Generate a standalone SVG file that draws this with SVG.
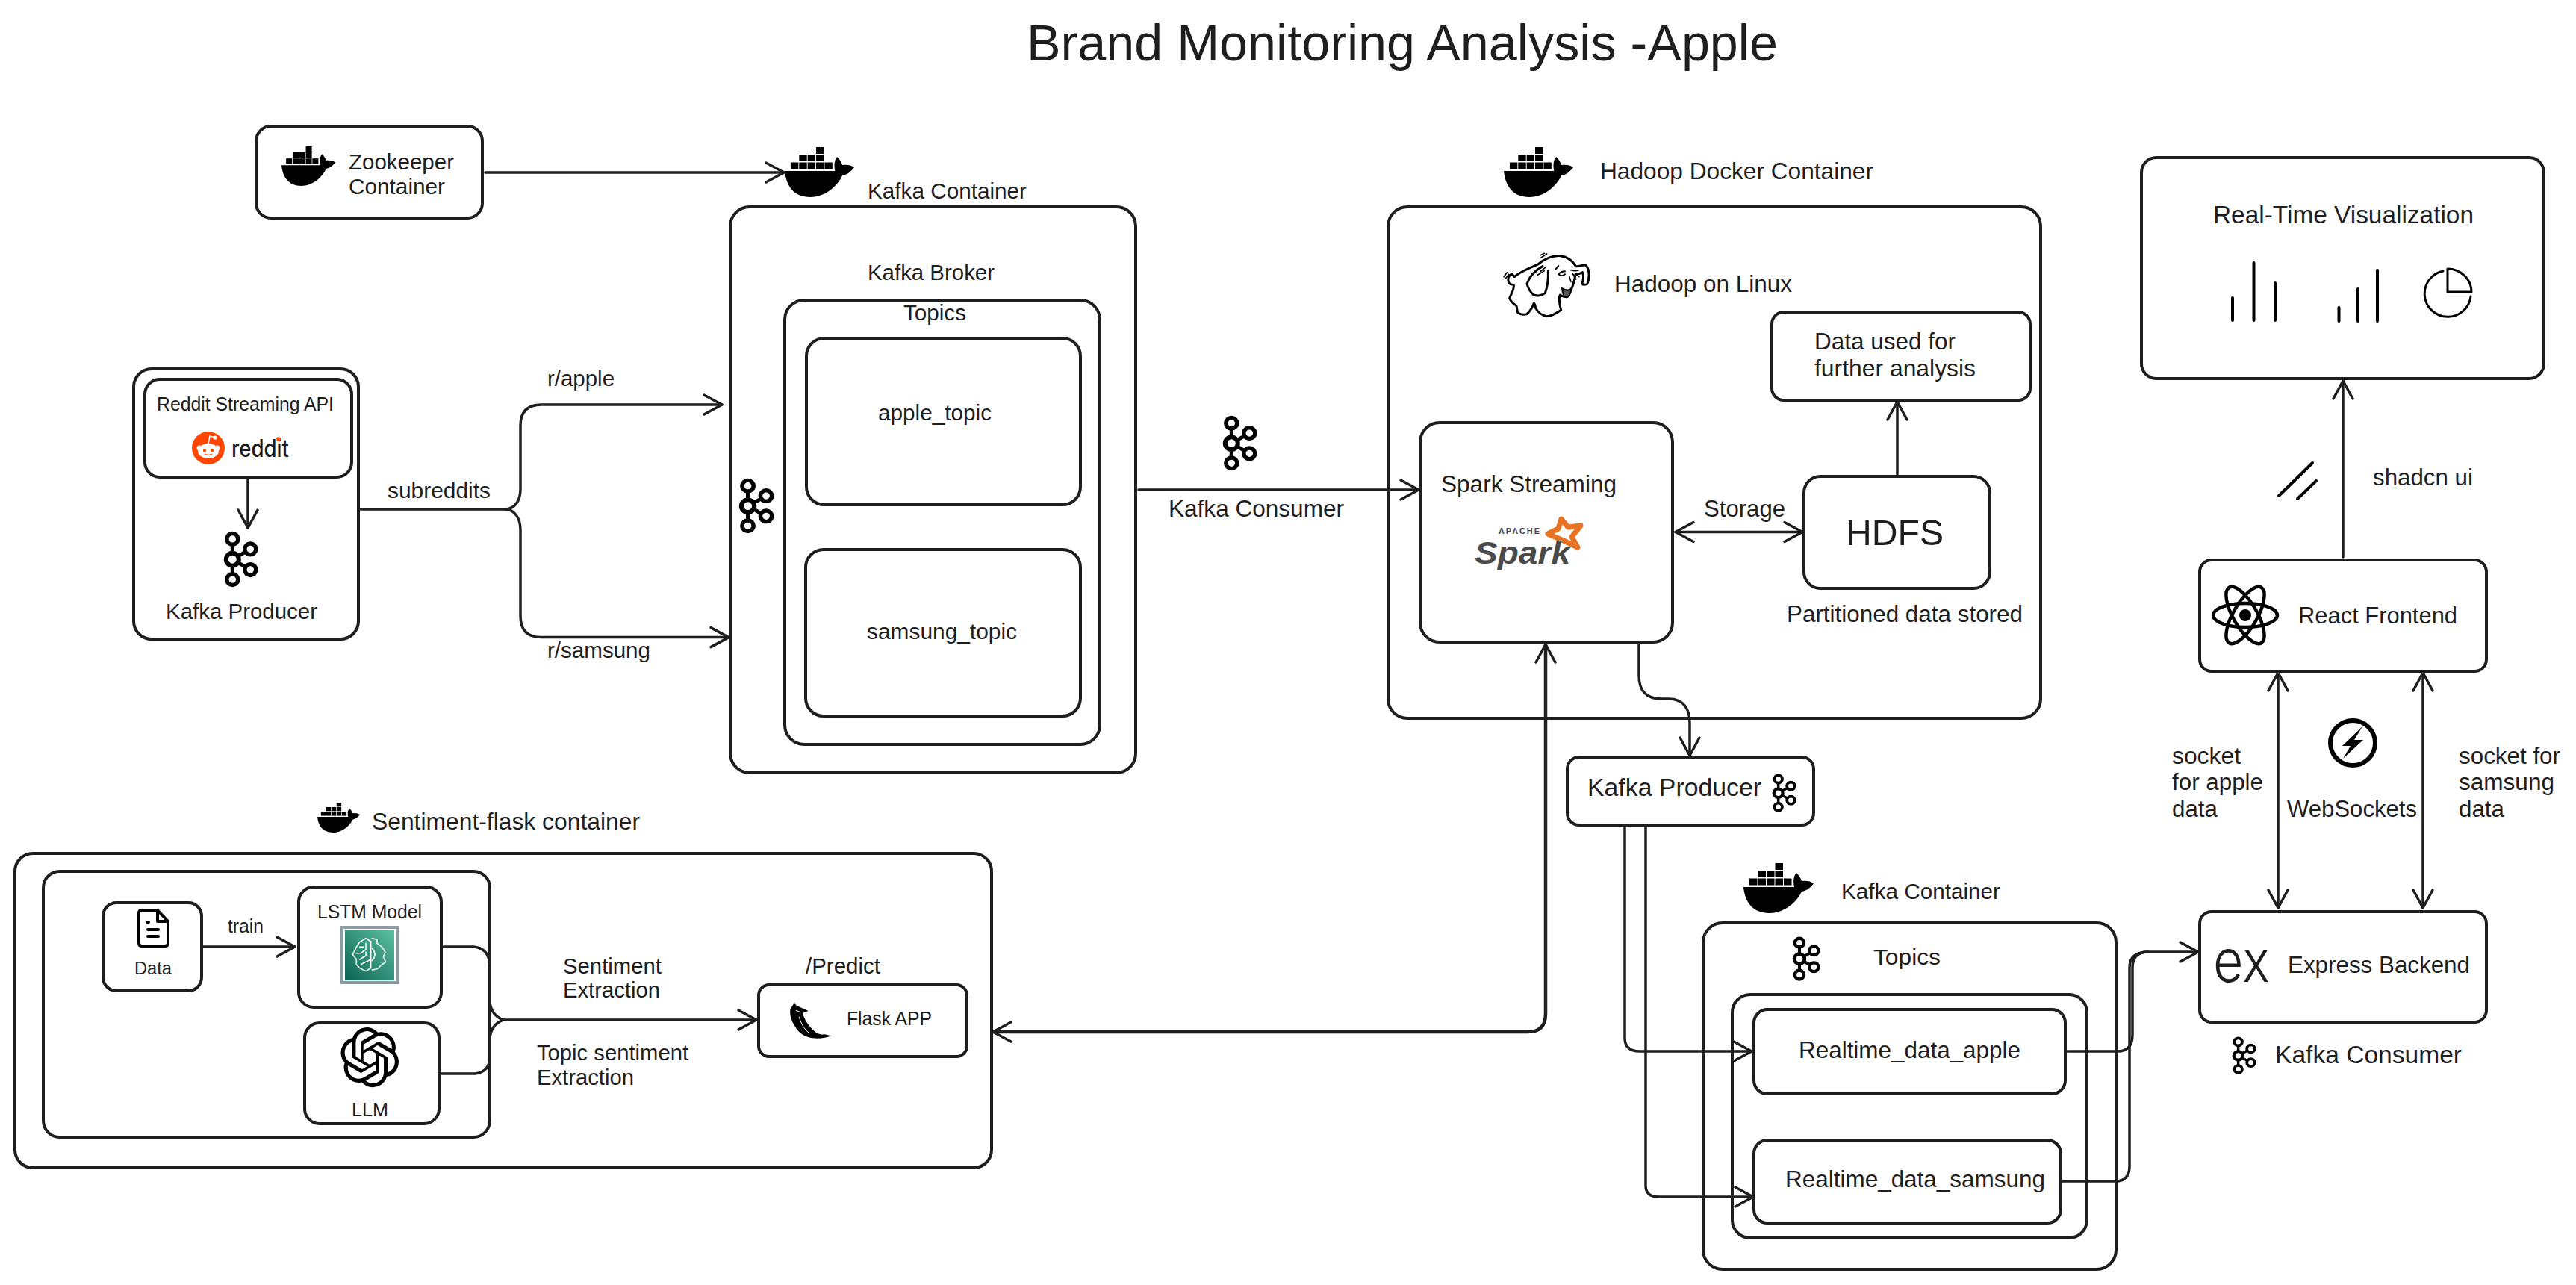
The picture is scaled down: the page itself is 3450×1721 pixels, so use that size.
<svg xmlns="http://www.w3.org/2000/svg" width="3450" height="1721" viewBox="0 0 3450 1721">
<style>
text{font-family:"Liberation Sans",Arial,sans-serif;fill:#1e1e1e}
.f24{font-size:24px}.f25{font-size:25px}.f30{font-size:30px}.f31{font-size:31px}.f32{font-size:32px}.f33{font-size:33px}.f34{font-size:34px}
.box{fill:none;stroke:#1e1e1e;stroke-width:4}
.conn{fill:none;stroke:#1e1e1e;stroke-width:3.5;stroke-linecap:round;stroke-linejoin:round}
.arr{marker-end:url(#head)}
.both{marker-end:url(#head);marker-start:url(#head)}
.ico{fill:none;stroke:#000;stroke-linecap:round;stroke-linejoin:round}
</style>
<defs>
<marker id="head" markerUnits="userSpaceOnUse" markerWidth="40" markerHeight="40" viewBox="-30 -20 40 40" refX="0" refY="0" orient="auto-start-reverse">
<path d="M-24 -13L0 0L-24 13" fill="none" stroke="#1e1e1e" stroke-width="3.5" stroke-linecap="round" stroke-linejoin="round"/>
</marker>
<symbol id="whale" viewBox="0 0 94 67" preserveAspectRatio="none">
<path d="M0 32H68C66 22 68 16 71 13C75 17 77 21 78 24C84 23 90 24 94 27C90 33 84 37 78 38C70 55 52 67 35 67C12 67 2 52 0 32Z" fill="#000"/>
<g fill="#000"><rect x="8" y="20.5" width="10.5" height="9"/><rect x="19.5" y="20.5" width="10.5" height="9"/><rect x="31" y="20.5" width="10.5" height="9"/><rect x="42.5" y="20.5" width="10.5" height="9"/><rect x="54" y="20.5" width="10.5" height="9"/><rect x="19.5" y="10" width="10.5" height="9"/><rect x="31" y="10" width="10.5" height="9"/><rect x="42.5" y="10" width="10.5" height="9"/><rect x="42.5" y="0" width="10.5" height="9"/></g>
</symbol>
<symbol id="kafka" viewBox="0 0 47 78" preserveAspectRatio="none">
<path d="M12.3 11V66M12.3 38.7L36.3 24.7M12.3 38.7L36.3 52.7" fill="none" stroke="#000" stroke-width="5"/>
<g fill="#fff" stroke="#000"><circle cx="12.3" cy="11" r="7.5" stroke-width="5.5"/><circle cx="12.3" cy="38.7" r="8.5" stroke-width="6"/><circle cx="12.3" cy="66" r="7.5" stroke-width="5.5"/><circle cx="36.3" cy="24.7" r="7.5" stroke-width="5.5"/><circle cx="36.3" cy="52.7" r="7.5" stroke-width="5.5"/></g>
</symbol>
<linearGradient id="aws" x1="0" y1="1" x2="1" y2="0"><stop offset="0" stop-color="#0a6350"/><stop offset="1" stop-color="#5cc0a2"/></linearGradient>
</defs>
<rect width="3450" height="1721" fill="#fff"/>

<text id="title" x="1375" y="81" font-size="68" textLength="1006" lengthAdjust="spacingAndGlyphs">Brand Monitoring Analysis -Apple</text>

<g id="connectors">
<path class="conn arr" d="M650 231H1050"/>
<path class="conn arr" d="M332 642V707"/>
<path class="conn arr" d="M483 682H676C690 682 697 670 697 655V570Q697 542 725 542H967"/>
<path class="conn arr" d="M676 682C690 682 697 695 697 710V825Q697 853.6 725 853.6H976"/>
<path class="conn arr" d="M1525 656H1900"/>
<path class="conn both" d="M2244 712.5H2414"/>
<path class="conn arr" d="M2541 635V538"/>
<path class="conn arr" d="M2195 863V905C2195 925 2205 936 2225 936H2235C2255 936 2263 950 2263 968V1012"/>
<path class="conn both" d="M1330 1382H2046Q2070 1382 2070 1358V863" style="stroke-width:4.5"/>
<path class="conn arr" d="M2176 1107V1390Q2176 1408 2196 1408H2346"/>
<path class="conn arr" d="M2204 1107V1588Q2204 1603 2222 1603H2348"/>
<path class="conn" d="M2769 1408H2836Q2856 1408 2856 1386V1296Q2856 1275 2877 1275"/>
<path class="conn arr" d="M2761 1582H2833Q2852 1582 2852 1562V1296Q2852 1275 2877 1275H2944"/>
<path class="conn arr" d="M272 1268H395"/>
<path class="conn" d="M594 1268H634Q656 1270 656 1295V1342Q658 1360 674 1366"/>
<path class="conn" d="M591 1438H636Q656 1436 656 1415V1390Q658 1372 674 1366"/>
<path class="conn arr" d="M674 1366H1013"/>
<path class="conn arr" d="M3138 746V510"/>
<path class="conn both" d="M3051 901V1216"/>
<path class="conn both" d="M3245 901V1216"/>
</g>

<g id="zookeeper">
<rect class="box" x="343" y="169" width="303" height="123" rx="20"/>
<use href="#whale" x="377" y="196" width="72" height="53"/>
<text class="f30" x="467" y="227" textLength="141" lengthAdjust="spacingAndGlyphs">Zookeeper</text>
<text class="f30" x="467" y="260" textLength="129" lengthAdjust="spacingAndGlyphs">Container</text>
</g>

<g id="reddit-producer">
<rect class="box" x="179" y="494" width="301" height="362" rx="24"/>
<rect class="box" x="194" y="508" width="277" height="131" rx="20"/>
<text class="f25" x="210" y="550" textLength="237" lengthAdjust="spacingAndGlyphs">Reddit Streaming API</text>
<circle cx="279" cy="600" r="22" fill="#ff4500"/>
<ellipse cx="279" cy="604" rx="14" ry="10" fill="#fff"/>
<circle cx="267" cy="600" r="3.5" fill="#fff"/><circle cx="291" cy="600" r="3.5" fill="#fff"/>
<circle cx="274" cy="603" r="2.2" fill="#ff4500"/><circle cx="284" cy="603" r="2.2" fill="#ff4500"/>
<path d="M279 594L281 584L288 586" fill="none" stroke="#fff" stroke-width="1.6"/><circle cx="288" cy="586" r="2.6" fill="#fff"/>
<path d="M274 608Q279 611 284 608" fill="none" stroke="#ff4500" stroke-width="1.4"/>
<text x="310" y="612" font-size="33" font-weight="500" style="font-family:Inter,sans-serif;fill:#1a1a1b" textLength="77" lengthAdjust="spacingAndGlyphs">reddit</text>
<circle cx="373" cy="588" r="2.8" fill="#ff4500"/>
<use href="#kafka" x="299" y="711" width="47" height="77"/>
<text class="f30" x="222" y="829" textLength="203" lengthAdjust="spacingAndGlyphs">Kafka Producer</text>
</g>
<g id="subreddit-labels">
<text class="f30" x="519" y="667" textLength="138" lengthAdjust="spacingAndGlyphs">subreddits</text>
<text class="f30" x="733" y="517" textLength="90" lengthAdjust="spacingAndGlyphs">r/apple</text>
<text class="f30" x="733" y="881" textLength="138" lengthAdjust="spacingAndGlyphs">r/samsung</text>
</g>

<g id="kafka-container">
<use href="#whale" x="1051" y="197" width="93" height="67"/>
<text class="f30" x="1162" y="266" textLength="213" lengthAdjust="spacingAndGlyphs">Kafka Container</text>
<rect class="box" x="978" y="277" width="543" height="758" rx="26"/>
<text class="f30" x="1162" y="375" textLength="170" lengthAdjust="spacingAndGlyphs">Kafka Broker</text>
<rect class="box" x="1051" y="402" width="422" height="595" rx="26"/>
<text class="f30" x="1210" y="429" textLength="84" lengthAdjust="spacingAndGlyphs">Topics</text>
<use href="#kafka" x="989" y="640" width="48" height="76"/>
</g>
<g id="apple-topic">
<rect class="box" x="1080" y="453" width="367" height="223" rx="24"/>
<text class="f30" x="1176" y="563" textLength="152" lengthAdjust="spacingAndGlyphs">apple_topic</text>
</g>
<g id="samsung-topic">
<rect class="box" x="1079" y="736" width="368" height="223" rx="24"/>
<text class="f30" x="1161" y="856" textLength="201" lengthAdjust="spacingAndGlyphs">samsung_topic</text>
</g>

<g id="kafka-consumer">
<use href="#kafka" x="1637" y="556" width="47" height="76"/>
<text class="f32" x="1565" y="692" textLength="235" lengthAdjust="spacingAndGlyphs">Kafka Consumer</text>
</g>

<g id="hadoop-container">
<use href="#whale" x="2014" y="197" width="93" height="67"/>
<text class="f32" x="2143" y="240" textLength="366" lengthAdjust="spacingAndGlyphs">Hadoop Docker Container</text>
<rect class="box" x="1859" y="277" width="874" height="685" rx="26"/>
<g id="hadoop-elephant" transform="translate(2000 330) scale(.3333)" fill="none" stroke="#000" stroke-width="9" stroke-linecap="round" stroke-linejoin="round">
<path d="M85 122C110 100 150 85 180 72C205 50 240 35 270 38C300 42 320 60 332 80C345 82 360 72 372 76C386 90 388 125 378 150C372 156 360 155 356 150C362 135 364 118 358 104C348 110 338 112 330 112C326 140 316 170 305 190C295 205 280 205 268 195C262 205 266 235 272 256C258 266 235 280 215 281C195 278 178 262 170 248C168 240 168 232 163 228C158 245 145 262 135 272C120 276 105 272 98 266C94 255 96 245 92 238C80 230 68 218 65 208C72 190 84 175 82 155C75 152 65 155 62 145C55 130 65 112 75 112C82 118 86 122 85 122Z" fill="#fff"/>
<path d="M198 80C170 95 148 115 135 150C140 170 150 185 162 195C175 200 195 198 208 188C216 165 222 135 220 100"/>
<path d="M190 100L212 82M178 115L205 98M192 45L215 30M190 35L205 28M42 122L55 105M50 128L62 112" stroke-width="5"/>
<path d="M250 92L262 78M262 112C270 102 278 100 288 100M262 112C270 120 278 120 288 112" stroke-width="6"/>
<path d="M312 95C322 98 332 100 342 96M318 108L332 132M305 120L312 142M330 110L345 122" stroke-width="5"/>
<path d="M276 168C292 178 306 178 314 168C312 190 302 205 292 205C284 205 278 190 276 168Z" fill="#555" stroke-width="6"/>
</g>
<text class="f32" x="2162" y="391" textLength="238" lengthAdjust="spacingAndGlyphs">Hadoop on Linux</text>
<text class="f32" x="2393" y="833" textLength="316" lengthAdjust="spacingAndGlyphs">Partitioned data stored</text>
<text class="f32" x="2282" y="692" textLength="109" lengthAdjust="spacingAndGlyphs">Storage</text>
</g>
<g id="data-analysis">
<rect class="box" x="2373" y="418" width="346" height="118" rx="16"/>
<text class="f32" x="2430" y="468" textLength="189" lengthAdjust="spacingAndGlyphs">Data used for</text>
<text class="f32" x="2430" y="504" textLength="216" lengthAdjust="spacingAndGlyphs">further analysis</text>
</g>
<g id="hdfs">
<rect class="box" x="2416" y="638" width="249" height="150" rx="22"/>
<text x="2472" y="730" font-size="48" textLength="131" lengthAdjust="spacingAndGlyphs">HDFS</text>
</g>
<g id="spark">
<rect class="box" x="1902" y="566" width="338" height="294" rx="26"/>
<text class="f32" x="1930" y="659" textLength="235" lengthAdjust="spacingAndGlyphs">Spark Streaming</text>
<polygon points="2091,695 2100,706 2117,704 2105,719 2113,733 2094,724 2073,715 2087,708" fill="#fff" stroke="#e67424" stroke-width="7" stroke-linejoin="round"/>
<text x="2007" y="715" font-size="11" font-weight="700" style="fill:#4a4a4a" textLength="55" lengthAdjust="spacing">APACHE</text>
<text x="1975" y="755" font-size="42" font-weight="700" font-style="italic" style="fill:#4a4a4a" textLength="128" lengthAdjust="spacingAndGlyphs">Spark</text>
</g>

<g id="kafka-producer-2">
<rect class="box" x="2099" y="1014" width="330" height="91" rx="16"/>
<text class="f34" x="2126" y="1066" textLength="233" lengthAdjust="spacingAndGlyphs">Kafka Producer</text>
<use href="#kafka" x="2373" y="1036" width="33" height="53"/>
</g>

<g id="kafka-container-2">
<use href="#whale" x="2335" y="1156" width="94" height="67"/>
<text class="f30" x="2466" y="1204" textLength="213" lengthAdjust="spacingAndGlyphs">Kafka Container</text>
<rect class="box" x="2281" y="1236" width="553" height="464" rx="26"/>
<use href="#kafka" x="2400" y="1254" width="38" height="61"/>
<text class="f30" x="2509" y="1292" textLength="90" lengthAdjust="spacingAndGlyphs">Topics</text>
<rect class="box" x="2320" y="1332" width="475" height="326" rx="24"/>
</g>
<g id="realtime-apple">
<rect class="box" x="2349" y="1352" width="417" height="113" rx="18"/>
<text class="f32" x="2409" y="1417" textLength="297" lengthAdjust="spacingAndGlyphs">Realtime_data_apple</text>
</g>
<g id="realtime-samsung">
<rect class="box" x="2349" y="1527" width="411" height="111" rx="18"/>
<text class="f32" x="2391" y="1590" textLength="348" lengthAdjust="spacingAndGlyphs">Realtime_data_samsung</text>
</g>

<g id="visualization">
<rect class="box" x="2868" y="211" width="539" height="296" rx="20"/>
<text class="f33" x="2964" y="299" textLength="349" lengthAdjust="spacingAndGlyphs">Real-Time Visualization</text>
<g class="ico" stroke-width="4">
<path d="M2990 399V429M3018.5 352V429M3047 379V429M3132.5 412V430M3158 387V430M3184 362V430"/>
<path d="M3272 363A31 31 0 1 0 3309 397" stroke-width="3"/>
<path d="M3278 360V391H3310A32 31 0 0 0 3278 360Z" stroke-width="3"/>
</g>
</g>
<g id="shadcn">
<path class="ico" stroke-width="4" d="M3052 664L3097 620M3077 668L3102 644"/>
<text class="f31" x="3178" y="650" textLength="134" lengthAdjust="spacingAndGlyphs">shadcn ui</text>
</g>
<g id="react">
<rect class="box" x="2946" y="750" width="384" height="149" rx="16"/>
<g class="ico" stroke-width="4.5" transform="translate(3007 824)">
<ellipse rx="43" ry="16"/><ellipse rx="43" ry="16" transform="rotate(60)"/><ellipse rx="43" ry="16" transform="rotate(120)"/>
</g>
<circle cx="3007" cy="824" r="8"/>
<text class="f31" x="3078" y="835" textLength="213" lengthAdjust="spacingAndGlyphs">React Frontend</text>
</g>
<g id="websockets">
<circle cx="3151" cy="995" r="30" fill="none" stroke="#000" stroke-width="6"/>
<path d="M3164 973L3137 999H3148L3138 1016L3165 991H3153Z" fill="#000"/>
<text class="f31" x="3063" y="1094" textLength="174" lengthAdjust="spacingAndGlyphs">WebSockets</text>
<text class="f31" x="2909" y="1023" textLength="92" lengthAdjust="spacingAndGlyphs">socket</text>
<text class="f31" x="2909" y="1058" textLength="122" lengthAdjust="spacingAndGlyphs">for apple</text>
<text class="f31" x="2909" y="1094" textLength="61" lengthAdjust="spacingAndGlyphs">data</text>
<text class="f31" x="3293" y="1023" textLength="136" lengthAdjust="spacingAndGlyphs">socket for</text>
<text class="f31" x="3293" y="1058" textLength="128" lengthAdjust="spacingAndGlyphs">samsung</text>
<text class="f31" x="3293" y="1094" textLength="61" lengthAdjust="spacingAndGlyphs">data</text>
</g>
<g id="express">
<rect class="box" x="2946" y="1221" width="384" height="148" rx="16"/>
<text x="2964" y="1315" font-size="79" font-weight="300" style="font-family:Inter,sans-serif" textLength="76" lengthAdjust="spacingAndGlyphs">ex</text>
<text class="f31" x="3064" y="1303" textLength="244" lengthAdjust="spacingAndGlyphs">Express Backend</text>
<use href="#kafka" x="2989" y="1388" width="33" height="52"/>
<text class="f33" x="3047" y="1424" textLength="250" lengthAdjust="spacingAndGlyphs">Kafka Consumer</text>
</g>

<g id="sentiment-container">
<use href="#whale" x="425" y="1075" width="57" height="40"/>
<text class="f32" x="498" y="1111" textLength="359" lengthAdjust="spacingAndGlyphs">Sentiment-flask container</text>
<rect class="box" x="20" y="1143" width="1308" height="421" rx="24"/>
<rect class="box" x="58" y="1167" width="598" height="356" rx="22"/>
<text class="f30" x="754" y="1304" textLength="132" lengthAdjust="spacingAndGlyphs">Sentiment</text>
<text class="f30" x="754" y="1336" textLength="130" lengthAdjust="spacingAndGlyphs">Extraction</text>
<text class="f30" x="719" y="1420" textLength="203" lengthAdjust="spacingAndGlyphs">Topic sentiment</text>
<text class="f30" x="719" y="1453" textLength="130" lengthAdjust="spacingAndGlyphs">Extraction</text>
</g>
<g id="data">
<rect class="box" x="138" y="1209" width="132" height="118" rx="18"/>
<path class="ico" stroke-width="4" d="M190 1219H211L225 1234V1263Q225 1267 221 1267H190Q186 1267 186 1263V1223Q186 1219 190 1219ZM211 1219V1234H225M197 1235H199M198 1245H212M198 1254H212"/>
<text class="f24" x="180" y="1305" textLength="50" lengthAdjust="spacingAndGlyphs">Data</text>
<text class="f25" x="305" y="1249" textLength="48" lengthAdjust="spacingAndGlyphs">train</text>
</g>
<g id="lstm">
<rect class="box" x="400" y="1188" width="191" height="161" rx="20"/>
<text class="f25" x="425" y="1230" textLength="140" lengthAdjust="spacingAndGlyphs">LSTM Model</text>
<rect x="456" y="1240" width="78" height="78" fill="#8c9aa3"/>
<rect x="460" y="1244" width="70" height="70" fill="#fff"/>
<rect x="462" y="1246" width="66" height="67" fill="url(#aws)"/>
<g transform="translate(440 1235) scale(.3333)" fill="none" stroke="#fff" stroke-width="4.5" stroke-linejoin="round" stroke-linecap="round">
<path d="M150 65L170 78V185L150 197L125 185L112 170V150L97 130L112 100L125 80Z"/>
<path d="M112 125H130L150 110M150 85V110M125 150L150 135V120M130 170L170 150M125 100H140"/>
<path d="M175 65L195 70V85L215 100L228 120L220 140L230 160L212 172L200 185L190 190L175 192"/>
<path d="M175 105Q198 130 175 155"/>
</g>
</g>
<g id="llm">
<rect class="box" x="408" y="1370" width="180" height="135" rx="20"/>
<path transform="translate(456 1376) scale(3.27 3.34)" fill="#000" d="M22.2819 9.8211a5.9847 5.9847 0 0 0-.5157-4.9108 6.0462 6.0462 0 0 0-6.5098-2.9A6.0651 6.0651 0 0 0 4.9807 4.1818a5.9847 5.9847 0 0 0-3.9977 2.9 6.0462 6.0462 0 0 0 .7427 7.0966 5.98 5.98 0 0 0 .511 4.9107 6.051 6.051 0 0 0 6.5146 2.9001A5.9847 5.9847 0 0 0 13.2599 24a6.0557 6.0557 0 0 0 5.7718-4.2058 5.9894 5.9894 0 0 0 3.9977-2.9001 6.0557 6.0557 0 0 0-.7475-7.0729zm-9.022 12.6081a4.4755 4.4755 0 0 1-2.8764-1.0408l.1419-.0804 4.7783-2.7582a.7948.7948 0 0 0 .3927-.6813v-6.7369l2.02 1.1686a.071.071 0 0 1 .038.052v5.5826a4.504 4.504 0 0 1-4.4945 4.4944zm-9.6607-4.1254a4.4708 4.4708 0 0 1-.5346-3.0137l.142.0852 4.783 2.7582a.7712.7712 0 0 0 .7806 0l5.8428-3.3685v2.3324a.0804.0804 0 0 1-.0332.0615L9.74 19.9502a4.4992 4.4992 0 0 1-6.1408-1.6464zM2.3408 7.8956a4.485 4.485 0 0 1 2.3655-1.9728V11.6a.7664.7664 0 0 0 .3879.6765l5.8144 3.3543-2.0201 1.1685a.0757.0757 0 0 1-.071 0l-4.8303-2.7865A4.504 4.504 0 0 1 2.3408 7.872zm16.5963 3.8558L13.1038 8.364 15.1192 7.2a.0757.0757 0 0 1 .071 0l4.8303 2.7913a4.4944 4.4944 0 0 1-.6765 8.1042v-5.6772a.79.79 0 0 0-.407-.667zm2.0107-3.0231l-.142-.0852-4.7735-2.7818a.7759.7759 0 0 0-.7854 0L9.409 9.2297V6.8974a.0662.0662 0 0 1 .0284-.0615l4.8303-2.7866a4.4992 4.4992 0 0 1 6.6802 4.66zM8.3065 12.863l-2.02-1.1638a.0804.0804 0 0 1-.038-.0567V6.0742a4.4992 4.4992 0 0 1 7.3757-3.4537l-.142.0805L8.704 5.459a.7948.7948 0 0 0-.3927.6813zm1.0976-2.3654l2.602-1.4998 2.6069 1.4998v2.9994l-2.5974 1.4997-2.6067-1.4997Z"/>
<text class="f25" x="471" y="1495" textLength="49" lengthAdjust="spacingAndGlyphs">LLM</text>
</g>
<g id="flask">
<text class="f30" x="1079" y="1304" textLength="100" lengthAdjust="spacingAndGlyphs">/Predict</text>
<rect class="box" x="1016" y="1319" width="279" height="96" rx="14"/>
<g transform="translate(1040 1330) scale(.3333)">
<path d="M72 38L80 50L128 72L105 80C112 105 125 130 160 160C175 168 190 168 190 165L220 172C195 182 160 186 130 178C105 170 85 155 75 135C62 115 52 95 55 65Z" fill="#000"/>
<path d="M90 95C98 120 110 145 132 162M78 70L100 78" fill="none" stroke="#fff" stroke-width="3"/>
</g>
<text class="f25" x="1134" y="1373" textLength="114" lengthAdjust="spacingAndGlyphs">Flask APP</text>
</g>
</svg>
